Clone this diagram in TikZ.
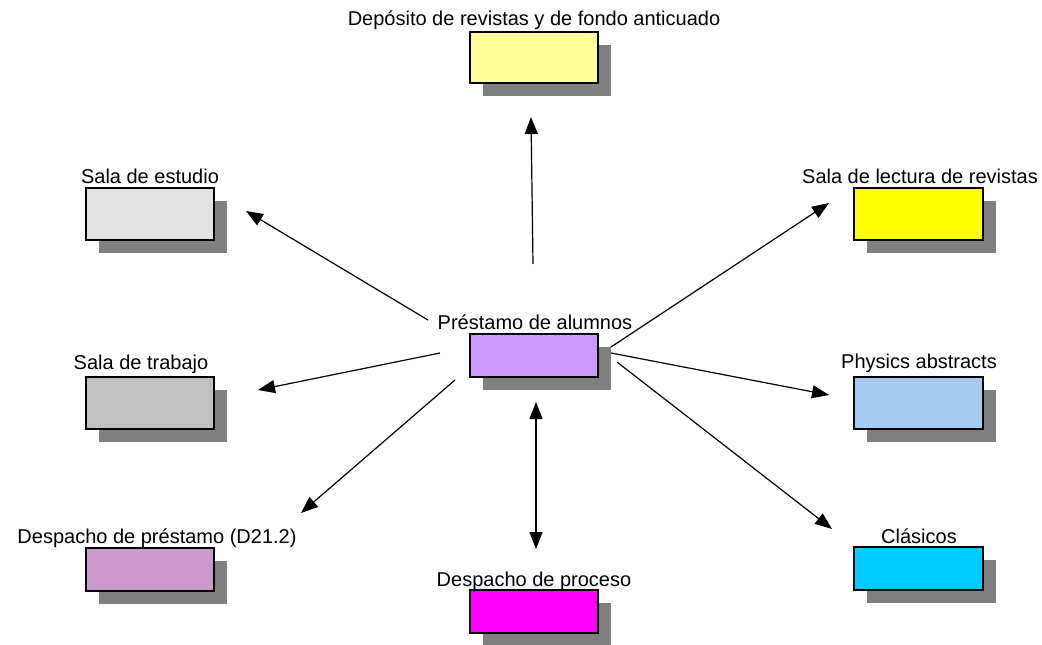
\documentclass[tikz,border=0pt]{standalone}
\usepackage{fontspec}
\setmainfont{Liberation Sans}
\usetikzlibrary{arrows.meta}
\definecolor{shadowgray}{RGB}{128,128,128}
\definecolor{cdep}{RGB}{255,255,153}
\definecolor{cest}{RGB}{227,227,227}
\definecolor{clec}{RGB}{255,255,0}
\definecolor{cpre}{RGB}{204,153,255}
\definecolor{ctra}{RGB}{192,192,192}
\definecolor{cphy}{RGB}{166,202,240}
\definecolor{cdpr}{RGB}{204,153,204}
\definecolor{ccla}{RGB}{0,204,255}
\definecolor{cpro}{RGB}{255,0,255}
\tikzset{
  boxlabel/.style={anchor=base, inner sep=0pt, font=\fontsize{20}{22}\selectfont},
  conn/.style={line width=1.2pt, -{Triangle[length=17pt,width=13pt]}},
  dconn/.style={line width=1.2pt, {Triangle[length=17pt,width=13pt]}-{Triangle[length=17pt,width=13pt]}},
}
% #1 name, #2 x1, #3 y1, #4 x2, #5 y2, #6 colour
\newcommand{\mybox}[6]{%
  \fill[shadowgray] (#2+13,#3+13) rectangle (#4+13,#5+13);
  \path[fill=#6, draw=black, line width=1.3pt] (#2,#3) rectangle (#4,#5);
  \coordinate (#1) at ({(#2+#4)/2},{(#3+#5)/2});
}
\begin{document}
\begin{tikzpicture}[x=1pt,y=-1pt]
\useasboundingbox (0,0) rectangle (1042,645);
\fill[white] (0,0) rectangle (1042,645);

\mybox{dep}{470}{32}{598}{83}{cdep}
\mybox{est}{86}{188}{214}{240}{cest}
\mybox{lec}{854}{188}{983}{240}{clec}
\mybox{pre}{470}{334}{598}{377}{cpre}
\mybox{tra}{86}{377}{214}{429}{ctra}
\mybox{phy}{854}{377}{983}{429}{cphy}
\mybox{dpr}{86}{548}{214}{591}{cdpr}
\mybox{cla}{854}{547}{983}{590}{ccla}
\mybox{pro}{470}{590}{598}{633}{cpro}

\node[boxlabel] (ldep) at (534,25) {Depósito de revistas y de fondo anticuado};
\node[boxlabel] (lest) at (150,183) {Sala de estudio};
\node[boxlabel] (llec) at (920,183) {Sala de lectura de revistas};
\node[boxlabel] (lpre) at (535,329) {Préstamo de alumnos};
\node[boxlabel] (ltra) at (141,369) {Sala de trabajo};
\node[boxlabel] (lphy) at (919,368) {Physics abstracts};
\node[boxlabel] (ldpr) at (157,543) {Despacho de préstamo (D21.2)};
\node[boxlabel] (lcla) at (919,543) {Clásicos};
\node[boxlabel] (lpro) at (534,586) {Despacho de proceso};

% connector ends
\coordinate (sdep) at (533,264);  \coordinate (edep) at (531,117);
\coordinate (sest) at (428,320);  \coordinate (eest) at (246,211);
\coordinate (slec) at (611,347);  \coordinate (elec) at (829,203);
\coordinate (stra) at (440,353);  \coordinate (etra) at (258,390);
\coordinate (sphy) at (611,353);  \coordinate (ephy) at (829,395);
\coordinate (sdpr) at (455,380);  \coordinate (edpr) at (301,513);
\coordinate (scla) at (617,362);  \coordinate (ecla) at (832,529);
\coordinate (spro) at (536,402);  \coordinate (epro) at (536,549);

\draw[conn] (sdep) -- (edep);
\draw[conn] (sest) -- (eest);
\draw[conn] (slec) -- (elec);
\draw[conn] (stra) -- (etra);
\draw[conn] (sphy) -- (ephy);
\draw[conn] (sdpr) -- (edpr);
\draw[conn] (scla) -- (ecla);
\draw[dconn] (spro) -- (epro);
\end{tikzpicture}
\end{document}
